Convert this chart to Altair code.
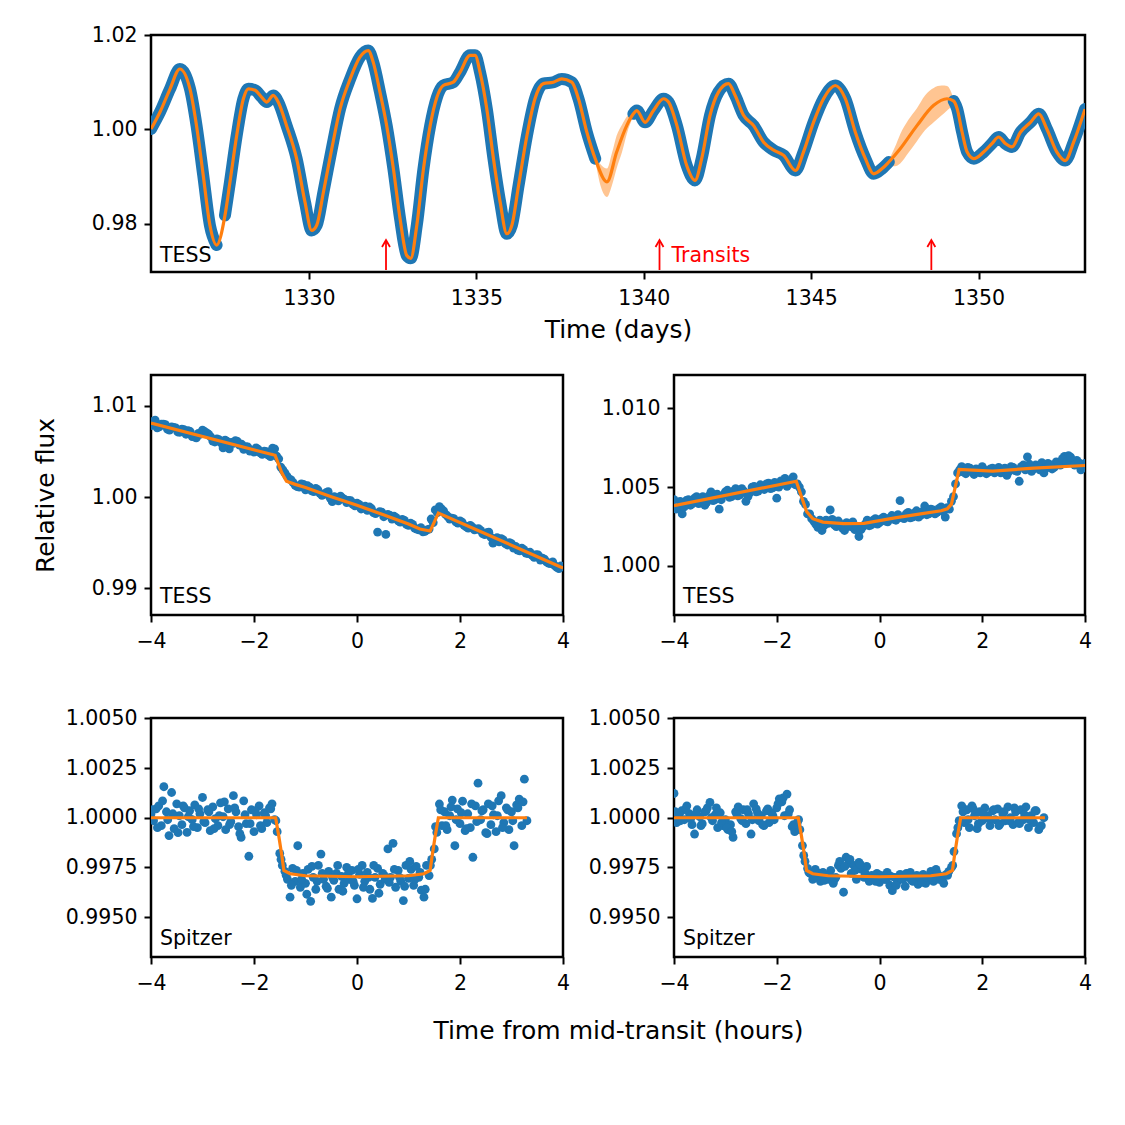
import altair as alt
import pandas as pd

BLUE = "#1f77b4"
ORANGE = "#ff7f0e"
FONT = "DejaVu Sans"
NBSP = "\u00a0"

# ---------------- top panel: TESS light curve ----------------
top_time = [1325.28, 1325.55, 1325.85, 1326.14, 1326.44, 1326.64, 1326.84, 1327.04, 1327.24,
            1327.49, 1327.64, 1327.84, 1328.04, 1328.19, 1328.39, 1328.59, 1328.74, 1328.93, 1329.08,
            1329.33, 1329.63, 1329.88, 1330.08, 1330.23, 1330.43, 1330.68, 1330.93, 1331.23, 1331.52,
            1331.77, 1331.92, 1332.12, 1332.32, 1332.52, 1332.72, 1332.92, 1333.04, 1333.22, 1333.42,
            1333.62, 1333.82, 1334.01, 1334.31, 1334.51, 1334.81, 1334.96, 1335.11, 1335.31, 1335.51,
            1335.71, 1335.91, 1336.06, 1336.26, 1336.51, 1336.75, 1337.00, 1337.30, 1337.55, 1337.85,
            1338.05, 1338.30, 1338.55,
            1338.90, 1339.19, 1339.49,
            1339.69, 1339.79, 1340.04, 1340.29, 1340.59, 1340.74, 1340.99, 1341.28, 1341.53, 1341.73,
            1341.98, 1342.23, 1342.53, 1342.73, 1342.98, 1343.28, 1343.58, 1343.88, 1344.18, 1344.53,
            1344.77, 1345.07, 1345.37, 1345.72, 1346.02, 1346.32, 1346.62, 1346.87, 1347.12, 1347.32,
            1347.66, 1348.16, 1348.66, 1349.06,
            1349.26, 1349.36, 1349.51, 1349.66, 1349.86, 1350.15, 1350.40, 1350.60, 1350.80, 1351.00,
            1351.25, 1351.55, 1351.80, 1352.04, 1352.34, 1352.59, 1352.84, 1353.18]
top_flux = [1.0001, 1.0037, 1.0086, 1.0128, 1.0087, 1.0008, 0.9903, 0.9797, 0.9755,
            0.9818, 0.9889, 0.9987, 1.0065, 1.0086, 1.0083, 1.0068, 1.0058, 1.0072, 1.0058,
            1.0008, 0.9938, 0.9846, 0.9786, 0.9797, 0.9867, 0.9959, 1.0044, 1.0107, 1.0153,
            1.0167, 1.0142, 1.0079, 1.0008, 0.9917, 0.9811, 0.9733, 0.9727, 0.9797, 0.9917,
            1.0008, 1.0068, 1.0093, 1.0100, 1.0121, 1.0157, 1.0157, 1.0121, 1.0044, 0.9938,
            0.9846, 0.9779, 0.9797, 0.9881, 0.9987, 1.0065, 1.0097, 1.0100, 1.0107, 1.0100,
            1.0065, 0.9994, 0.9938,
            0.9889, 0.9952, 1.0008,
            1.0033, 1.0040, 1.0015, 1.0040, 1.0065, 1.0058, 1.0008, 0.9924, 0.9892, 0.9938,
            1.0030, 1.0079, 1.0097, 1.0072, 1.0030, 1.0008, 0.9973, 0.9956, 0.9945, 0.9913,
            0.9952, 1.0015, 1.0065, 1.0093, 1.0065, 0.9994, 0.9938, 0.9906, 0.9917, 0.9931,
            0.9959, 1.0008, 1.0051, 1.0065,
            1.0060, 1.0044, 0.9994, 0.9952, 0.9938, 0.9952, 0.9970, 0.9984, 0.9970, 0.9963,
            0.9994, 1.0015, 1.0033, 1.0001, 0.9952, 0.9934, 0.9973, 1.0043]
# observed segment id (0 = no data, model only)
top_seg = [1] * 9 + [2] * 53 + [0] * 3 + [3] * 30 + [0] * 4 + [4] * 18

band_time = [1338.55, 1338.72, 1338.90, 1339.05, 1339.19, 1339.35, 1339.49, 1339.69,
             1347.32, 1347.50, 1347.66, 1347.90, 1348.16, 1348.40, 1348.66, 1348.90, 1349.06, 1349.26]
band_lo = [0.9934, 0.9878, 0.9857, 0.9882, 0.9918, 0.9952, 0.9990, 1.0029,
           0.9927, 0.9922, 0.9928, 0.9950, 0.9975, 0.9998, 1.0015, 1.0030, 1.0040, 1.0054]
band_hi = [0.9942, 0.9925, 0.9917, 0.9950, 0.9987, 1.0010, 1.0027, 1.0037,
           0.9935, 0.9962, 0.9990, 1.0020, 1.0045, 1.0072, 1.0088, 1.0093, 1.0092, 1.0064]
band_gap = [1] * 8 + [2] * 10

transit_times = [1332.30, 1340.47, 1348.59]

# ---------------- transit panels ----------------
# regular cadences (start, step) of the zoomed transit light curves
TESS_A = (-4.0, 0.08)
TESS_B = (-3.96, 0.08)
SPZ_A = (-4.0, 0.05)
SPZ_B = (-3.975, 0.1)

tl_flux = [1.00785, 1.00845, 1.00770, 1.00800, 1.00745, 1.00770, 1.00760, 1.00712, 1.00740, 1.00730,
           1.00665, 1.00650, 1.00690, 1.00720, 1.00690, 1.00615, 1.00640, 1.00595, 1.00625, 1.00530,
           1.00590, 1.00610, 1.00580, 1.00555, 1.00505, 1.00495, 1.00525, 1.00470, 1.00500, 1.00445,
           1.00530, 1.00420, 1.00300, 1.00230, 1.00190, 1.00130, 1.00110, 1.00140, 1.00125, 1.00070,
           1.00095, 1.00040, 1.00030, 1.00060, 0.99950, 0.99990, 1.00010, 0.99975, 0.99965, 0.99920,
           0.99935, 0.99870, 0.99900, 0.99893, 0.99830, 0.99617, 0.99835, 0.99591, 0.99800, 0.99790,
           0.99740, 0.99755, 0.99700, 0.99715, 0.99660, 0.99640, 0.99620, 0.99640, 0.99760, 0.99860,
           0.99895, 0.99850, 0.99790, 0.99770, 0.99730, 0.99740, 0.99690, 0.99660, 0.99670, 0.99650,
           0.99635, 0.99590, 0.99615, 0.99495, 0.99555, 0.99545, 0.99490, 0.99500, 0.99440, 0.99420,
           0.99440, 0.99385, 0.99395, 0.99340, 0.99365, 0.99330, 0.99290, 0.99270, 0.99250, 0.99215,
           0.99235]
tl_flux_b = [1.00830, 1.00760, 1.00800, 1.00795, 1.00735, 1.00765, 1.00715, 1.00745, 1.00690, 1.00720,
             1.00660, 1.00700, 1.00735, 1.00705, 1.00660, 1.00605, 1.00630, 1.00540, 1.00610, 1.00600,
             1.00620, 1.00570, 1.00525, 1.00550, 1.00510, 1.00540, 1.00485, 1.00505, 1.00460, 1.00536,
             1.00450, 1.00330, 1.00265, 1.00200, 1.00160, 1.00115, 1.00145, 1.00080, 1.00110, 1.00060,
             1.00080, 1.00020, 1.00050, 0.99990, 1.00005, 0.99960, 0.99990, 0.99940, 0.99960, 0.99905,
             0.99920, 0.99880, 0.99855, 0.99875, 0.99820, 0.99840, 0.99785, 0.99810, 0.99760, 0.99775,
             0.99725, 0.99745, 0.99690, 0.99700, 0.99650, 0.99665, 0.99625, 0.99650, 0.99720, 0.99830,
             0.99870, 0.99810, 0.99760, 0.99765, 0.99715, 0.99725, 0.99675, 0.99690, 0.99640, 0.99655,
             0.99600, 0.99610, 0.99560, 0.99520, 0.99510, 0.99530, 0.99475, 0.99490, 0.99460, 0.99410,
             0.99425, 0.99380, 0.99360, 0.99370, 0.99310, 0.99320, 0.99275, 0.99290, 0.99230, 0.99245]
tl_model_t = [-4.0, -1.59, -1.46, -1.37, -1.2, -1.0, -0.5, 0.0, 0.5, 1.0, 1.22, 1.42, 1.58, 4.0]
tl_model_f = [1.00812, 1.00459, 1.00267, 1.00174, 1.00140, 1.00105, 1.00005, 0.99910, 0.99810,
              0.99705, 0.99650, 0.99628, 0.99826, 0.99223]

tr_flux = [1.00420, 1.00370, 1.00330, 1.00415, 1.00385, 1.00430, 1.00395, 1.00440, 1.00405, 1.00470,
           1.00420, 1.00360, 1.00450, 1.00480, 1.00440, 1.00490, 1.00450, 1.00475, 1.00440, 1.00500,
           1.00470, 1.00515, 1.00485, 1.00525, 1.00495, 1.00430, 1.00540, 1.00555, 1.00520, 1.00565,
           1.00520, 1.00470, 1.00390, 1.00330, 1.00285, 1.00245, 1.00225, 1.00290, 1.00355, 1.00260,
           1.00285, 1.00240, 1.00275, 1.00250, 1.00230, 1.00187, 1.00250, 1.00290, 1.00260, 1.00300,
           1.00275, 1.00310, 1.00280, 1.00320, 1.00290, 1.00414, 1.00300, 1.00340, 1.00310, 1.00350,
           1.00320, 1.00380, 1.00330, 1.00355, 1.00340, 1.00375, 1.00310, 1.00360, 1.00440, 1.00590,
           1.00630, 1.00585, 1.00620, 1.00580, 1.00600, 1.00630, 1.00585, 1.00615, 1.00590, 1.00625,
           1.00600, 1.00575, 1.00630, 1.00605, 1.00537, 1.00640, 1.00692, 1.00600, 1.00640, 1.00610,
           1.00590, 1.00650, 1.00615, 1.00660, 1.00640, 1.00695, 1.00700, 1.00650, 1.00670, 1.00610,
           1.00650]
tr_flux_b = [1.00360, 1.00410, 1.00375, 1.00420, 1.00395, 1.00440, 1.00400, 1.00385, 1.00445, 1.00415,
             1.00455, 1.00420, 1.00470, 1.00435, 1.00475, 1.00445, 1.00490, 1.00410, 1.00465, 1.00505,
             1.00475, 1.00500, 1.00520, 1.00490, 1.00530, 1.00500, 1.00530, 1.00505, 1.00545, 1.00515,
             1.00500, 1.00410, 1.00330, 1.00300, 1.00265, 1.00290, 1.00255, 1.00270, 1.00295, 1.00250,
             1.00265, 1.00225, 1.00260, 1.00280, 1.00245, 1.00230, 1.00265, 1.00255, 1.00290, 1.00265,
             1.00300, 1.00285, 1.00305, 1.00295, 1.00325, 1.00305, 1.00330, 1.00305, 1.00335, 1.00310,
             1.00345, 1.00325, 1.00360, 1.00330, 1.00365, 1.00345, 1.00370, 1.00410, 1.00520, 1.00610,
             1.00595, 1.00625, 1.00600, 1.00615, 1.00590, 1.00610, 1.00595, 1.00620, 1.00600, 1.00590,
             1.00620, 1.00600, 1.00625, 1.00600, 1.00630, 1.00610, 1.00645, 1.00615, 1.00630, 1.00655,
             1.00620, 1.00640, 1.00625, 1.00655, 1.00680, 1.00660, 1.00690, 1.00640, 1.00655, 1.00630]
tr_model_t = [-4.0, -1.62, -1.52, -1.42, -1.30, -1.1, -0.7, -0.3, 0.3, 0.8, 1.2, 1.32, 1.40,
              1.55, 2.2, 3.0, 4.0]
tr_model_f = [1.00382, 1.00537, 1.00440, 1.00345, 1.00300, 1.00278, 1.00268, 1.00270, 1.00305,
              1.00330, 1.00350, 1.00362, 1.00392, 1.00612, 1.00602, 1.00620, 1.00637]

sl_flux = [1.00020, 0.99985, 1.00045, 1.00060, 0.99960, 1.00156, 1.00030, 0.99910, 1.00127, 0.99945,
           1.00070, 1.00010, 0.99965, 1.00050, 0.99926, 1.00035, 0.99990, 1.00065, 0.99950, 1.00020,
           1.00102, 0.99975, 1.00040, 0.99935, 1.00055, 0.99995, 0.99960, 1.00075, 1.00005, 0.99940,
           1.00045, 0.99980, 1.00111, 1.00030, 0.99955, 0.99901, 1.00085, 0.99970, 0.99806, 1.00040,
           0.99930, 1.00015, 1.00060, 0.99945, 1.00025, 0.99975, 1.00050, 1.00070, 0.99990, 0.99930,
           0.99820, 0.99760, 0.99730, 0.99690, 0.99600, 0.99745, 0.99680, 0.99859, 0.99650, 0.99720,
           0.99670, 0.99740, 0.99579, 0.99700, 0.99640, 0.99760, 0.99817, 0.99690, 0.99655, 0.99730,
           0.99600, 0.99685, 0.99720, 0.99640, 0.99705, 0.99670, 0.99750, 0.99690, 0.99735, 0.99660,
           0.99592, 0.99715, 0.99760, 0.99680, 0.99725, 0.99640, 0.99594, 0.99700, 0.99745, 0.99665,
           0.99720, 0.99690, 0.99843, 0.99700, 0.99871, 0.99650, 0.99735, 0.99680, 0.99583, 0.99760,
           0.99695, 0.99740, 0.99660, 0.99755, 0.99700, 0.99635, 0.99600, 0.99760, 0.99709, 0.99790,
           0.99843, 0.99926, 1.00069, 0.99960, 1.00030, 0.99940, 1.00010, 1.00089, 0.99859, 1.00045,
           0.99970, 1.00083, 0.99935, 1.00020, 0.99950, 0.99801, 1.00060, 1.00174, 0.99990, 1.00040,
           0.99925, 1.00070, 0.99965, 1.00015, 0.99930, 1.00085, 1.00111, 0.99975, 1.00050, 0.99940,
           1.00030, 0.99859, 1.00065, 1.00094, 0.99960, 1.00194, 0.99985]
sl_flux_b = [1.00040, 0.99950, 1.00085, 0.99990, 1.00020, 0.99925, 1.00060, 1.00005, 0.99955, 1.00045,
             0.99980, 1.00030, 0.99945, 1.00010, 1.00080, 0.99965, 1.00050, 0.99920, 1.00015, 0.99970,
             1.00035, 0.99960, 1.00010, 1.00045, 0.99985, 0.99790, 0.99710, 0.99660, 0.99735, 0.99690,
             0.99615, 0.99755, 0.99680, 0.99720, 0.99645, 0.99700, 0.99760, 0.99630, 0.99715, 0.99680,
             0.99740, 0.99650, 0.99700, 0.99760, 0.99620, 0.99710, 0.99675, 0.99740, 0.99700, 0.99655,
             0.99780, 0.99690, 0.99725, 0.99640, 0.99760, 0.99955, 1.00040, 0.99960, 1.00055, 0.99990,
             1.00025, 0.99945, 1.00070, 0.99980, 1.00035, 0.99920, 1.00060, 1.00010, 0.99950, 1.00040,
             0.99985, 1.00050, 1.00080]
sl_model_t = [-4.0, -1.58, -1.52, -1.46, -1.42, -1.30, -1.0, 0.0, 1.0, 1.30, 1.42, 1.46, 1.52, 1.58, 3.30]
sl_model_f = [1.0, 1.0, 0.9991, 0.9981, 0.99735, 0.99718, 0.99708, 0.99703, 0.99708, 0.99718,
              0.99735, 0.9981, 0.9991, 1.0, 1.0]

sr_flux = [1.00122, 0.99975, 1.00010, 1.00035, 0.99990, 1.00060, 1.00020, 0.99965, 0.99918, 1.00040,
           1.00005, 0.99970, 1.00030, 1.00050, 1.00077, 0.99985, 1.00015, 0.99950, 1.00025, 0.99960,
           0.99990, 0.99940, 0.99965, 0.99901, 1.00030, 1.00055, 0.99995, 1.00040, 0.99970, 1.00020,
           0.99918, 1.00070, 1.00045, 0.99985, 1.00010, 0.99960, 1.00035, 0.99975, 1.00025, 0.99990,
           1.00050, 1.00095, 1.00080, 1.00010, 1.00119, 1.00040, 0.99955, 0.99930, 0.99975, 0.99940,
           0.99860, 0.99780, 0.99745, 0.99720, 0.99690, 0.99740, 0.99705, 0.99680, 0.99725, 0.99700,
           0.99690, 0.99735, 0.99670, 0.99700, 0.99760, 0.99745, 0.99625, 0.99801, 0.99770, 0.99720,
           0.99760, 0.99690, 0.99775, 0.99740, 0.99700, 0.99755, 0.99680, 0.99710, 0.99690, 0.99720,
           0.99675, 0.99705, 0.99690, 0.99725, 0.99660, 0.99633, 0.99700, 0.99680, 0.99715, 0.99690,
           0.99655, 0.99700, 0.99725, 0.99680, 0.99705, 0.99665, 0.99690, 0.99715, 0.99670, 0.99700,
           0.99730, 0.99680, 0.99740, 0.99690, 0.99705, 0.99670, 0.99715, 0.99730, 0.99750, 0.99830,
           0.99920, 0.99985, 1.00060, 0.99975, 1.00040, 0.99950, 1.00060, 1.00010, 0.99945, 1.00030,
           0.99985, 1.00050, 1.00010, 0.99960, 1.00035, 0.99990, 1.00045, 0.99970, 1.00020, 0.99985,
           1.00055, 1.00000, 0.99965, 1.00030, 0.99975, 1.00040, 0.99990, 1.00055, 0.99950, 1.00010,
           0.99975, 1.00035, 0.99940, 0.99960, 1.00000]
sr_flux_b = [1.00030, 0.99985, 1.00045, 0.99995, 1.00020, 0.99960, 1.00035, 1.00000, 1.00050, 0.99975,
             0.99950, 0.99930, 1.00015, 0.99985, 1.00040, 0.99990, 1.00025, 0.99965, 1.00045, 1.00010,
             1.00070, 1.00100, 1.00020, 0.99965, 0.99990, 0.99810, 0.99725, 0.99700, 0.99720, 0.99685,
             0.99710, 0.99690, 0.99780, 0.99755, 0.99790, 0.99735, 0.99765, 0.99720, 0.99700, 0.99680,
             0.99710, 0.99690, 0.99705, 0.99660, 0.99695, 0.99720, 0.99685, 0.99710, 0.99675, 0.99700,
             0.99690, 0.99720, 0.99685, 0.99710, 0.99760, 0.99950, 1.00030, 0.99990, 1.00045, 0.99970,
             1.00020, 0.99995, 1.00040, 0.99960, 1.00030, 0.99985, 1.00050, 0.99970, 1.00015, 0.99990,
             1.00035, 0.99955]
sr_model_t = [-4.0, -1.58, -1.52, -1.46, -1.42, -1.30, -1.0, 0.0, 1.0, 1.30, 1.42, 1.46, 1.52, 1.58, 3.22]
sr_model_f = [1.0, 1.0, 0.9991, 0.9981, 0.99735, 0.99718, 0.99708, 0.99703, 0.99708, 0.99718,
              0.99735, 0.9981, 0.9991, 1.0, 1.0]

# ---------------- helpers ----------------
def cadence(start_step, n):
    t0, dt = start_step
    return [round(t0 + dt * i, 4) for i in range(n)]


TOP_W, TOP_H = 934, 237
LW, RW = 412, 411
MID_H, BOT_H = 240, 239
YT_X = -98          # x of the rotated y title baseline (relative to plot)


def ytitle_axis(values, fmt, title, h):
    return alt.Axis(values=values, format=fmt, title=title, titleX=YT_X, titleY=h / 2,
                    titleAngle=270, titleAlign="center", titleBaseline="alphabetic")


def xtitle_axis(values, fmt, title, ty):
    return alt.Axis(values=values, format=fmt, title=title, titleX=467, titleY=ty,
                    titleAlign="center", titleBaseline="alphabetic")


# ---------------- top panel ----------------
top_xs = alt.Scale(domain=[1325.28, 1353.18], nice=False, zero=False)
top_ys = alt.Scale(domain=[0.9698, 1.0200], nice=False, zero=False)
top_xaxis = xtitle_axis([1330, 1335, 1340, 1345, 1350], "d", "Time (days)", 65)
top_yaxis = ytitle_axis([0.98, 1.00, 1.02], ".2f", NBSP, TOP_H)

top_df = pd.DataFrame({"t": top_time, "f": top_flux, "seg": top_seg})
band_df = pd.DataFrame({"t": band_time, "lo": band_lo, "hi": band_hi, "gap": band_gap})
arrow_df = pd.DataFrame({"t": transit_times})
ttext_df = pd.DataFrame({"t": [transit_times[1]], "label": ["Transits"]})
tess_df = pd.DataFrame({"label": ["TESS"]})
spz_df = pd.DataFrame({"label": ["Spitzer"]})


def tx(field="t"):
    return alt.X(f"{field}:Q", scale=top_xs, axis=top_xaxis)


def ty(field="f"):
    return alt.Y(f"{field}:Q", scale=top_ys, axis=top_yaxis)


band = alt.Chart(band_df).mark_area(color=ORANGE, opacity=0.45, interpolate="monotone", clip=True).encode(
    x=tx(), y=ty("lo"), y2="hi:Q", detail="gap:N")
blue = alt.Chart(top_df).transform_filter("datum.seg > 0").mark_line(
    color=BLUE, strokeWidth=12, strokeCap="round", strokeJoin="round",
    interpolate="monotone", clip=True).encode(x=tx(), y=ty(), detail="seg:N")
orange = alt.Chart(top_df).mark_line(color=ORANGE, strokeWidth=3.2, interpolate="monotone",
                                      clip=True).encode(x=tx(), y=ty())
arrows = alt.Chart(arrow_df).mark_rule(color="red", strokeWidth=1.8).encode(
    x=tx(), y=alt.value(206), y2=alt.value(235))
heads = alt.Chart(arrow_df).mark_point(shape="M-0.57,1L0,0L0.57,1", size=196, filled=False,
                                       color="red", strokeWidth=1.8, opacity=1).encode(
    x=tx(), y=alt.value(205))
ttext = alt.Chart(ttext_df).mark_text(align="left", baseline="alphabetic", dx=12, color="red",
                                      font=FONT, fontSize=20.5).encode(
    x=tx(), y=alt.value(227), text="label:N")
tess_top = alt.Chart(tess_df).mark_text(align="left", baseline="alphabetic", color="black",
                                        font=FONT, fontSize=20.5).encode(
    x=alt.value(9), y=alt.value(227), text="label:N")

top = alt.layer(band, blue, orange, arrows, heads, ttext, tess_top).properties(width=TOP_W, height=TOP_H)


# ---------------- transit panels ----------------
def transit_panel(series, mt, mf, ydom, yvals, yfmt, label_df, w, h,
                  xtitle=None, xtitle_y=0, ytitle=None):
    xs = alt.Scale(domain=[-4, 4], nice=False, zero=False)
    ys = alt.Scale(domain=ydom, nice=False, zero=False)
    if xtitle:
        xaxis = xtitle_axis([-4, -2, 0, 2, 4], "d", xtitle, xtitle_y)
    else:
        xaxis = alt.Axis(values=[-4, -2, 0, 2, 4], format="d", title=None)
    if ytitle:
        yaxis = ytitle_axis(yvals, yfmt, ytitle, h)
    else:
        yaxis = alt.Axis(values=yvals, format=yfmt, title=None)
    ts, fs = [], []
    for flux, start_step in series:
        ts += cadence(start_step, len(flux))
        fs += flux
    pts_df = pd.DataFrame({"t": ts, "f": fs})
    mod_df = pd.DataFrame({"t": mt, "f": mf})
    pts = alt.Chart(pts_df).mark_circle(size=78, color=BLUE, opacity=1, clip=True).encode(
        x=alt.X("t:Q", scale=xs, axis=xaxis), y=alt.Y("f:Q", scale=ys, axis=yaxis))
    mod = alt.Chart(mod_df).mark_line(color=ORANGE, strokeWidth=3.2, clip=True).encode(
        x=alt.X("t:Q", scale=xs, axis=xaxis), y=alt.Y("f:Q", scale=ys, axis=yaxis))
    lab = alt.Chart(label_df).mark_text(align="left", baseline="alphabetic", color="black",
                                        font=FONT, fontSize=20.5).encode(
        x=alt.value(9), y=alt.value(h - 12), text="label:N")
    return alt.layer(pts, mod, lab).properties(width=w, height=h)


ml = transit_panel([(tl_flux, TESS_A), (tl_flux_b, TESS_B)], tl_model_t, tl_model_f,
                   [0.98707, 1.0134], [0.99, 1.00, 1.01], ".2f", tess_df, LW, MID_H,
                   xtitle=NBSP, xtitle_y=56, ytitle="Relative flux")
mr = transit_panel([(tr_flux, TESS_A), (tr_flux_b, TESS_B)], tr_model_t, tr_model_f,
                   [0.99689, 1.01211], [1.000, 1.005, 1.010], ".3f", tess_df, RW, MID_H)
bl = transit_panel([(sl_flux, SPZ_A), (sl_flux_b, SPZ_B)], sl_model_t, sl_model_f,
                   [0.99299, 1.00502], [0.995, 0.9975, 1.0, 1.0025, 1.005], ".4f", spz_df, LW, BOT_H,
                   xtitle="Time from mid-transit (hours)", xtitle_y=81, ytitle=NBSP)
br = transit_panel([(sr_flux, SPZ_A), (sr_flux_b, SPZ_B)], sr_model_t, sr_model_f,
                   [0.99299, 1.00502], [0.995, 0.9975, 1.0, 1.0025, 1.005], ".4f", spz_df, RW, BOT_H)

mid = alt.hconcat(ml, mr, spacing=111, bounds="flush")
bot = alt.hconcat(bl, br, spacing=111, bounds="flush")

chart = alt.vconcat(top, mid, bot, spacing=29).properties(
    padding={"left": 31, "top": 23, "right": 10, "bottom": 10},
    background="white",
).configure_view(
    stroke="black", strokeWidth=2.5
).configure_axis(
    domain=False, grid=False, ticks=True, tickColor="black", tickWidth=2, tickSize=7,
    labelFont=FONT, labelFontSize=20.5, labelColor="black", labelPadding=7,
    labelFlush=False, labelOverlap=False,
    titleFont=FONT, titleFontSize=25, titleColor="black", titleFontWeight="normal"
).configure_axisX(labelPadding=9)

chart.save("out.html", embed_options={"renderer": "svg", "actions": False})
